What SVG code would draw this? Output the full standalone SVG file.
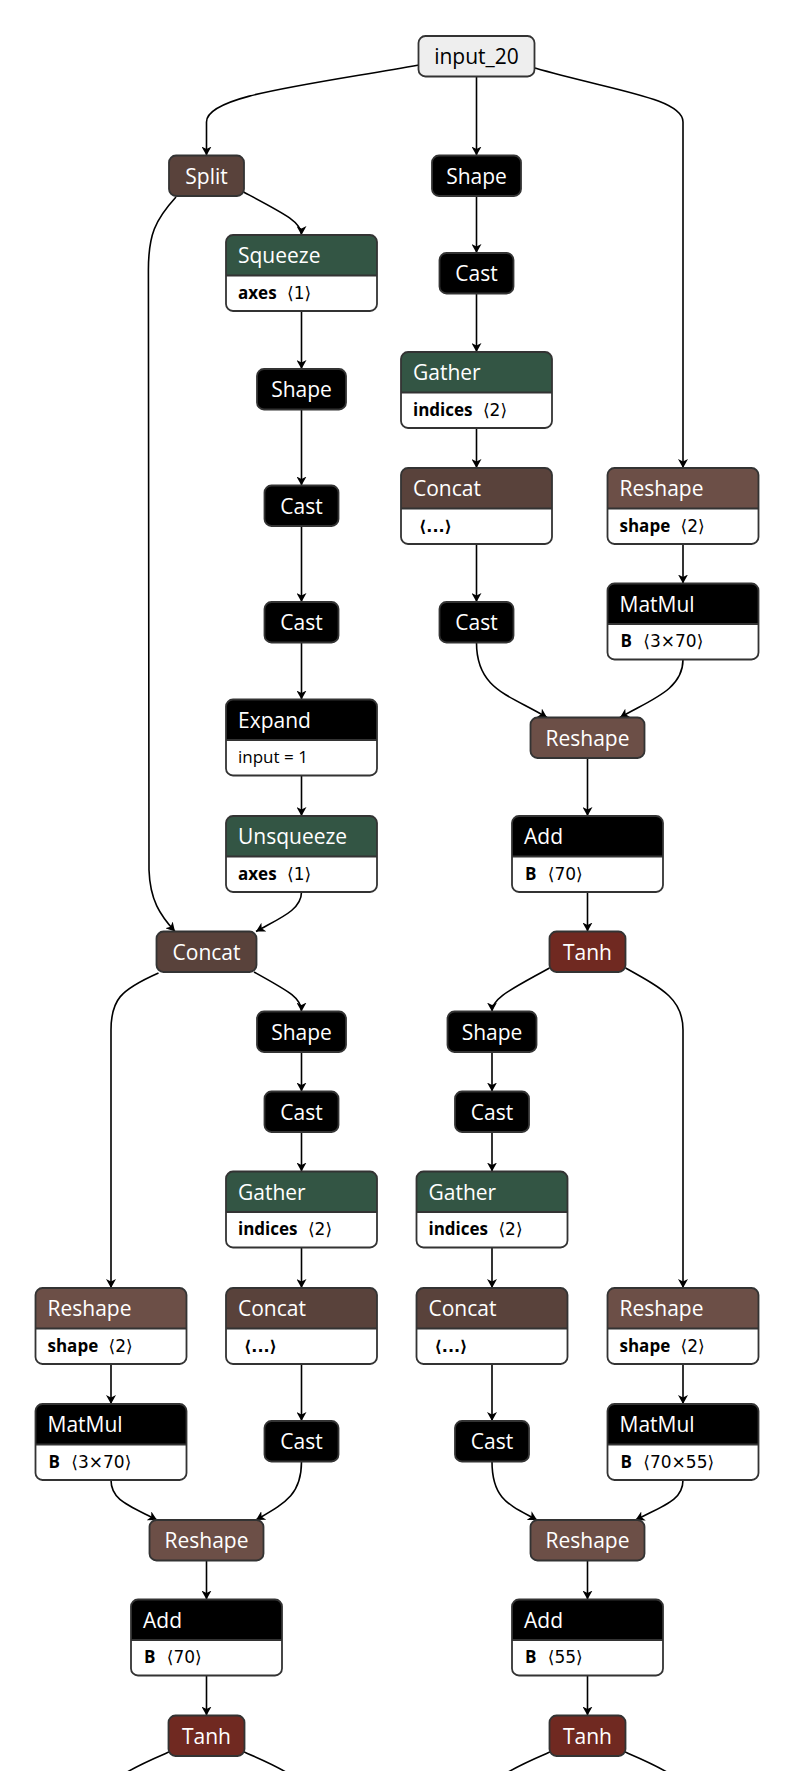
<svg xmlns="http://www.w3.org/2000/svg" width="792" height="1771" viewBox="0 0 792 1771">
<defs>
<style>
.e{fill:none;stroke:#000;stroke-width:1.6;marker-end:url(#a)}
.o{fill:none;stroke:#000;stroke-width:1.6}
.bg{fill:#fff}
.bd{fill:none;stroke:#333;stroke-width:1.8}
.dv{fill:none;stroke:#333;stroke-width:1.8}
.k{fill:#000}
.gr{fill:#335544}
.tn{fill:#59423b}
.sh{fill:#6c4f47}
.ac{fill:#702921}
.in{fill:#eee}
text{font-family:"Open Sans","DejaVu Sans",sans-serif}
.t{font-size:21px;fill:#fff}
.tc{font-size:21px;fill:#fff;text-anchor:middle}
.ti{font-size:21px;fill:#000;text-anchor:middle}
.at{font-size:17px;fill:#000}
.b{font-weight:bold}
.v{font-family:"DejaVu Sans",sans-serif;font-size:17px}
.vb{font-family:"DejaVu Sans",sans-serif;font-size:16px;font-weight:bold}
</style>
<marker id="a" markerUnits="userSpaceOnUse" viewBox="0 0 9 10" markerWidth="9" markerHeight="10" refX="9" refY="5" orient="auto">
<path d="M0,0L9,5L0,10L2.5,5Z" fill="#000"/>
</marker>
</defs>
<rect width="792" height="1771" fill="#fff"/>
<g id="edges">
<path class="e" d="M419,65C300,86 206.5,96 206.5,122L206.5,155.5"/>
<path class="e" d="M476.5,76L476.5,155.5"/>
<path class="e" d="M535,68C610,90 683,98 683,122L683,468"/>
<path class="e" d="M243.5,192C285,214 301.5,222 301.5,235"/>
<path class="e" d="M176,197C155,220 148.4,235 148.4,270L149,870C150,900 160,915 175,931.5"/>
<path class="e" d="M301.5,311L301.5,369"/>
<path class="e" d="M301.5,409.5L301.5,485.5"/>
<path class="e" d="M301.5,526L301.5,602"/>
<path class="e" d="M301.5,642.5L301.5,699.5"/>
<path class="e" d="M301.5,775.5L301.5,816"/>
<path class="e" d="M301.5,892C301.5,910 280,918 256,931.5"/>
<path class="e" d="M476.5,196L476.5,253"/>
<path class="e" d="M476.5,293.5L476.5,352"/>
<path class="e" d="M476.5,428L476.5,468"/>
<path class="e" d="M476.5,544L476.5,602"/>
<path class="e" d="M476.5,642.5C476.5,690 510,695 547,717.5"/>
<path class="e" d="M683,544L683,583.5"/>
<path class="e" d="M683,659.5C683,690 650,700 620,717.5"/>
<path class="e" d="M587.5,758L587.5,816"/>
<path class="e" d="M587.5,892L587.5,931.5"/>
<path class="e" d="M549.5,968C510,990 492,998 492,1011.5"/>
<path class="e" d="M625.5,968C665,990 683,1000 683,1030L683,1288"/>
<path class="e" d="M254,972C290,992 301.5,998 301.5,1011.5"/>
<path class="e" d="M158.5,973C120,990 111,1000 111,1030L111,1288"/>
<path class="e" d="M301.5,1052L301.5,1091.5"/>
<path class="e" d="M301.5,1132L301.5,1171.5"/>
<path class="e" d="M301.5,1247.5L301.5,1288"/>
<path class="e" d="M301.5,1364L301.5,1421"/>
<path class="e" d="M492,1052L492,1091.5"/>
<path class="e" d="M492,1132L492,1171.5"/>
<path class="e" d="M492,1247.5L492,1288"/>
<path class="e" d="M492,1364L492,1421"/>
<path class="e" d="M301.5,1461.5C301.5,1495 285,1503 256,1520"/>
<path class="e" d="M111,1364L111,1404"/>
<path class="e" d="M111,1480C111,1500 128,1505 157,1520"/>
<path class="e" d="M206.5,1560.5L206.5,1599.5"/>
<path class="e" d="M206.5,1675.5L206.5,1715.5"/>
<path class="o" d="M169,1752C155,1758 138,1765 124,1774"/>
<path class="o" d="M244,1752C258,1758 275,1765 289,1774"/>
<path class="e" d="M492,1461.5C492,1500 510,1505 537,1520"/>
<path class="e" d="M683,1364L683,1404"/>
<path class="e" d="M683,1480C683,1500 665,1505 635.5,1520"/>
<path class="e" d="M587.5,1560.5L587.5,1599.5"/>
<path class="e" d="M587.5,1675.5L587.5,1715.5"/>
<path class="o" d="M550,1752C536,1758 519,1765 505,1774"/>
<path class="o" d="M625,1752C639,1758 656,1765 670,1774"/>
</g>

<g id="input_20" transform="translate(418.5,36)"><rect class="in" width="116" height="40.5" rx="7"/><rect class="bd" width="116" height="40.5" rx="7"/><text class="ti" x="58" y="28">input_20</text></g>
<g id="split" transform="translate(169,155.5)"><rect class="tn" width="75" height="40.5" rx="7"/><rect class="bd" width="75" height="40.5" rx="7"/><text class="tc" x="37.5" y="28">Split</text></g>
<g id="shape_1" transform="translate(432,155.5)"><rect class="k" width="89" height="40.5" rx="7"/><rect class="bd" width="89" height="40.5" rx="7"/><text class="tc" x="44.5" y="28">Shape</text></g>
<g id="cast_1" transform="translate(439.5,253)"><rect class="k" width="74" height="40.5" rx="7"/><rect class="bd" width="74" height="40.5" rx="7"/><text class="tc" x="37" y="28">Cast</text></g>

<g id="squeeze" transform="translate(226,235)"><rect class="bg" width="151" height="76" rx="7"/><path class="gr" d="M0,40.5V7A7,7 0 0 1 7,0H144A7,7 0 0 1 151,7V40.5Z"/><path class="dv" d="M0,40.5H151"/><rect class="bd" width="151" height="76" rx="7"/><text class="t" x="12" y="28">Squeeze</text><text class="at" x="12" y="63.5"><tspan class="b">axes</tspan><tspan class="v" dx="5"> ⟨1⟩</tspan></text></g>
<g id="gather_1" transform="translate(401,352)"><rect class="bg" width="151" height="76" rx="7"/><path class="gr" d="M0,40.5V7A7,7 0 0 1 7,0H144A7,7 0 0 1 151,7V40.5Z"/><path class="dv" d="M0,40.5H151"/><rect class="bd" width="151" height="76" rx="7"/><text class="t" x="12" y="28">Gather</text><text class="at" x="12" y="63.5"><tspan class="b">indices</tspan><tspan class="v" dx="5"> ⟨2⟩</tspan></text></g>
<g id="concat_1" transform="translate(401,468)"><rect class="bg" width="151" height="76" rx="7"/><path class="tn" d="M0,40.5V7A7,7 0 0 1 7,0H144A7,7 0 0 1 151,7V40.5Z"/><path class="dv" d="M0,40.5H151"/><rect class="bd" width="151" height="76" rx="7"/><text class="t" x="12" y="28">Concat</text><text class="at vb" x="18" y="63.5">⟨...⟩</text></g>
<g id="reshape_1" transform="translate(607.5,468)"><rect class="bg" width="151" height="76" rx="7"/><path class="sh" d="M0,40.5V7A7,7 0 0 1 7,0H144A7,7 0 0 1 151,7V40.5Z"/><path class="dv" d="M0,40.5H151"/><rect class="bd" width="151" height="76" rx="7"/><text class="t" x="12" y="28">Reshape</text><text class="at" x="12" y="63.5"><tspan class="b">shape</tspan><tspan class="v" dx="5"> ⟨2⟩</tspan></text></g>
<g id="matmul_1" transform="translate(607.5,583.5)"><rect class="bg" width="151" height="76" rx="7"/><path class="k" d="M0,40.5V7A7,7 0 0 1 7,0H144A7,7 0 0 1 151,7V40.5Z"/><path class="dv" d="M0,40.5H151"/><rect class="bd" width="151" height="76" rx="7"/><text class="t" x="12" y="28">MatMul</text><text class="at" x="13" y="63.5"><tspan class="b">B</tspan><tspan class="v" dx="6"> ⟨3×70⟩</tspan></text></g>

<g id="shape_2" transform="translate(257,369)"><rect class="k" width="89" height="40.5" rx="7"/><rect class="bd" width="89" height="40.5" rx="7"/><text class="tc" x="44.5" y="28">Shape</text></g>
<g id="cast_2" transform="translate(264.5,485.5)"><rect class="k" width="74" height="40.5" rx="7"/><rect class="bd" width="74" height="40.5" rx="7"/><text class="tc" x="37" y="28">Cast</text></g>
<g id="cast_3" transform="translate(264.5,602)"><rect class="k" width="74" height="40.5" rx="7"/><rect class="bd" width="74" height="40.5" rx="7"/><text class="tc" x="37" y="28">Cast</text></g>
<g id="cast_4" transform="translate(439.5,602)"><rect class="k" width="74" height="40.5" rx="7"/><rect class="bd" width="74" height="40.5" rx="7"/><text class="tc" x="37" y="28">Cast</text></g>

<g id="expand" transform="translate(226,699.5)"><rect class="bg" width="151" height="76" rx="7"/><path class="k" d="M0,40.5V7A7,7 0 0 1 7,0H144A7,7 0 0 1 151,7V40.5Z"/><path class="dv" d="M0,40.5H151"/><rect class="bd" width="151" height="76" rx="7"/><text class="t" x="12" y="28">Expand</text><text class="at" x="12" y="63.5">input = 1</text></g>
<g id="reshape_2" transform="translate(530.5,717.5)"><rect class="sh" width="114" height="40.5" rx="7"/><rect class="bd" width="114" height="40.5" rx="7"/><text class="tc" x="57" y="28">Reshape</text></g>
<g id="unsqueeze" transform="translate(226,816)"><rect class="bg" width="151" height="76" rx="7"/><path class="gr" d="M0,40.5V7A7,7 0 0 1 7,0H144A7,7 0 0 1 151,7V40.5Z"/><path class="dv" d="M0,40.5H151"/><rect class="bd" width="151" height="76" rx="7"/><text class="t" x="12" y="28">Unsqueeze</text><text class="at" x="12" y="63.5"><tspan class="b">axes</tspan><tspan class="v" dx="5"> ⟨1⟩</tspan></text></g>
<g id="add_1" transform="translate(512,816)"><rect class="bg" width="151" height="76" rx="7"/><path class="k" d="M0,40.5V7A7,7 0 0 1 7,0H144A7,7 0 0 1 151,7V40.5Z"/><path class="dv" d="M0,40.5H151"/><rect class="bd" width="151" height="76" rx="7"/><text class="t" x="12" y="28">Add</text><text class="at" x="13" y="63.5"><tspan class="b">B</tspan><tspan class="v" dx="6"> ⟨70⟩</tspan></text></g>

<g id="concat_2" transform="translate(156.5,931.5)"><rect class="tn" width="100" height="40.5" rx="7"/><rect class="bd" width="100" height="40.5" rx="7"/><text class="tc" x="50" y="28">Concat</text></g>
<g id="tanh_1" transform="translate(549.5,931.5)"><rect class="ac" width="76" height="40.5" rx="7"/><rect class="bd" width="76" height="40.5" rx="7"/><text class="tc" x="38" y="28">Tanh</text></g>
<g id="shape_3" transform="translate(257,1011.5)"><rect class="k" width="89" height="40.5" rx="7"/><rect class="bd" width="89" height="40.5" rx="7"/><text class="tc" x="44.5" y="28">Shape</text></g>
<g id="shape_4" transform="translate(447.5,1011.5)"><rect class="k" width="89" height="40.5" rx="7"/><rect class="bd" width="89" height="40.5" rx="7"/><text class="tc" x="44.5" y="28">Shape</text></g>
<g id="cast_5" transform="translate(264.5,1091.5)"><rect class="k" width="74" height="40.5" rx="7"/><rect class="bd" width="74" height="40.5" rx="7"/><text class="tc" x="37" y="28">Cast</text></g>
<g id="cast_6" transform="translate(455,1091.5)"><rect class="k" width="74" height="40.5" rx="7"/><rect class="bd" width="74" height="40.5" rx="7"/><text class="tc" x="37" y="28">Cast</text></g>

<g id="gather_2" transform="translate(226,1171.5)"><rect class="bg" width="151" height="76" rx="7"/><path class="gr" d="M0,40.5V7A7,7 0 0 1 7,0H144A7,7 0 0 1 151,7V40.5Z"/><path class="dv" d="M0,40.5H151"/><rect class="bd" width="151" height="76" rx="7"/><text class="t" x="12" y="28">Gather</text><text class="at" x="12" y="63.5"><tspan class="b">indices</tspan><tspan class="v" dx="5"> ⟨2⟩</tspan></text></g>
<g id="gather_3" transform="translate(416.5,1171.5)"><rect class="bg" width="151" height="76" rx="7"/><path class="gr" d="M0,40.5V7A7,7 0 0 1 7,0H144A7,7 0 0 1 151,7V40.5Z"/><path class="dv" d="M0,40.5H151"/><rect class="bd" width="151" height="76" rx="7"/><text class="t" x="12" y="28">Gather</text><text class="at" x="12" y="63.5"><tspan class="b">indices</tspan><tspan class="v" dx="5"> ⟨2⟩</tspan></text></g>
<g id="reshape_3" transform="translate(35.5,1288)"><rect class="bg" width="151" height="76" rx="7"/><path class="sh" d="M0,40.5V7A7,7 0 0 1 7,0H144A7,7 0 0 1 151,7V40.5Z"/><path class="dv" d="M0,40.5H151"/><rect class="bd" width="151" height="76" rx="7"/><text class="t" x="12" y="28">Reshape</text><text class="at" x="12" y="63.5"><tspan class="b">shape</tspan><tspan class="v" dx="5"> ⟨2⟩</tspan></text></g>
<g id="concat_3" transform="translate(226,1288)"><rect class="bg" width="151" height="76" rx="7"/><path class="tn" d="M0,40.5V7A7,7 0 0 1 7,0H144A7,7 0 0 1 151,7V40.5Z"/><path class="dv" d="M0,40.5H151"/><rect class="bd" width="151" height="76" rx="7"/><text class="t" x="12" y="28">Concat</text><text class="at vb" x="18" y="63.5">⟨...⟩</text></g>
<g id="concat_4" transform="translate(416.5,1288)"><rect class="bg" width="151" height="76" rx="7"/><path class="tn" d="M0,40.5V7A7,7 0 0 1 7,0H144A7,7 0 0 1 151,7V40.5Z"/><path class="dv" d="M0,40.5H151"/><rect class="bd" width="151" height="76" rx="7"/><text class="t" x="12" y="28">Concat</text><text class="at vb" x="18" y="63.5">⟨...⟩</text></g>
<g id="reshape_4" transform="translate(607.5,1288)"><rect class="bg" width="151" height="76" rx="7"/><path class="sh" d="M0,40.5V7A7,7 0 0 1 7,0H144A7,7 0 0 1 151,7V40.5Z"/><path class="dv" d="M0,40.5H151"/><rect class="bd" width="151" height="76" rx="7"/><text class="t" x="12" y="28">Reshape</text><text class="at" x="12" y="63.5"><tspan class="b">shape</tspan><tspan class="v" dx="5"> ⟨2⟩</tspan></text></g>
<g id="matmul_2" transform="translate(35.5,1404)"><rect class="bg" width="151" height="76" rx="7"/><path class="k" d="M0,40.5V7A7,7 0 0 1 7,0H144A7,7 0 0 1 151,7V40.5Z"/><path class="dv" d="M0,40.5H151"/><rect class="bd" width="151" height="76" rx="7"/><text class="t" x="12" y="28">MatMul</text><text class="at" x="13" y="63.5"><tspan class="b">B</tspan><tspan class="v" dx="6"> ⟨3×70⟩</tspan></text></g>
<g id="cast_7" transform="translate(264.5,1421)"><rect class="k" width="74" height="40.5" rx="7"/><rect class="bd" width="74" height="40.5" rx="7"/><text class="tc" x="37" y="28">Cast</text></g>
<g id="cast_8" transform="translate(455,1421)"><rect class="k" width="74" height="40.5" rx="7"/><rect class="bd" width="74" height="40.5" rx="7"/><text class="tc" x="37" y="28">Cast</text></g>
<g id="matmul_3" transform="translate(607.5,1404)"><rect class="bg" width="151" height="76" rx="7"/><path class="k" d="M0,40.5V7A7,7 0 0 1 7,0H144A7,7 0 0 1 151,7V40.5Z"/><path class="dv" d="M0,40.5H151"/><rect class="bd" width="151" height="76" rx="7"/><text class="t" x="12" y="28">MatMul</text><text class="at" x="13" y="63.5"><tspan class="b">B</tspan><tspan class="v" dx="6"> ⟨70×55⟩</tspan></text></g>

<g id="reshape_5" transform="translate(149.5,1520)"><rect class="sh" width="114" height="40.5" rx="7"/><rect class="bd" width="114" height="40.5" rx="7"/><text class="tc" x="57" y="28">Reshape</text></g>
<g id="reshape_6" transform="translate(530.5,1520)"><rect class="sh" width="114" height="40.5" rx="7"/><rect class="bd" width="114" height="40.5" rx="7"/><text class="tc" x="57" y="28">Reshape</text></g>
<g id="add_2" transform="translate(131,1599.5)"><rect class="bg" width="151" height="76" rx="7"/><path class="k" d="M0,40.5V7A7,7 0 0 1 7,0H144A7,7 0 0 1 151,7V40.5Z"/><path class="dv" d="M0,40.5H151"/><rect class="bd" width="151" height="76" rx="7"/><text class="t" x="12" y="28">Add</text><text class="at" x="13" y="63.5"><tspan class="b">B</tspan><tspan class="v" dx="6"> ⟨70⟩</tspan></text></g>
<g id="add_3" transform="translate(512,1599.5)"><rect class="bg" width="151" height="76" rx="7"/><path class="k" d="M0,40.5V7A7,7 0 0 1 7,0H144A7,7 0 0 1 151,7V40.5Z"/><path class="dv" d="M0,40.5H151"/><rect class="bd" width="151" height="76" rx="7"/><text class="t" x="12" y="28">Add</text><text class="at" x="13" y="63.5"><tspan class="b">B</tspan><tspan class="v" dx="6"> ⟨55⟩</tspan></text></g>
<g id="tanh_2" transform="translate(168.5,1715.5)"><rect class="ac" width="76" height="40.5" rx="7"/><rect class="bd" width="76" height="40.5" rx="7"/><text class="tc" x="38" y="28">Tanh</text></g>
<g id="tanh_3" transform="translate(549.5,1715.5)"><rect class="ac" width="76" height="40.5" rx="7"/><rect class="bd" width="76" height="40.5" rx="7"/><text class="tc" x="38" y="28">Tanh</text></g>
</svg>
